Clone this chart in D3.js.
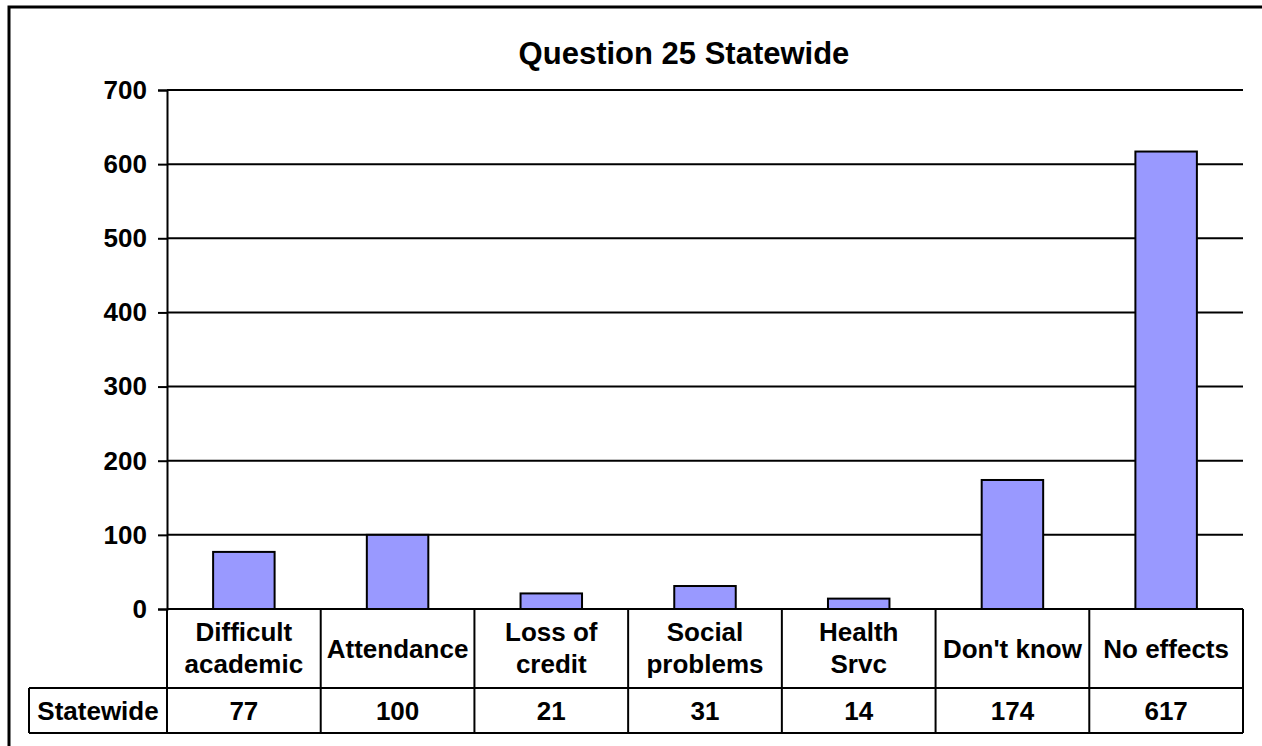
<!DOCTYPE html>
<html><head><meta charset="utf-8">
<script src="https://cdnjs.cloudflare.com/ajax/libs/d3/7.8.5/d3.min.js"></script>
<style>html,body{margin:0;padding:0;background:#fff;}svg{display:block;font-family:Arial,"Liberation Sans",sans-serif;font-weight:bold;}</style>
</head><body>
<svg id="c" width="1262" height="746"></svg>
<script>
const title = "Question 25 Statewide";
const categories = [["Difficult","academic"],["Attendance"],["Loss of","credit"],["Social","problems"],["Health","Srvc"],["Don't know"],["No effects"]];
const seriesName = "Statewide";
const values = [77, 100, 21, 31, 14, 174, 617];
const yTicks = [0, 100, 200, 300, 400, 500, 600, 700];

const svg = d3.select("#c");
const L = 167, R = 1243, T = 90, B = 609;
const rowH1 = 79, rowH2 = 45, tableLeft = 29;
const FS = 26;

svg.append("rect").attr("x", 9).attr("y", 7).attr("width", 1400).attr("height", 900)
  .attr("fill", "none").attr("stroke", "#000").attr("stroke-width", 3);

const x = d3.scaleBand().domain(d3.range(categories.length)).range([L, R]).paddingInner(0.6).paddingOuter(0.3);
const y = d3.scaleLinear().domain([0, 700]).range([B, T]);
const step = (R - L) / categories.length;

// gridlines
svg.append("g").selectAll("line").data(yTicks).join("line")
  .attr("x1", L).attr("x2", R).attr("y1", d => y(d)).attr("y2", d => y(d))
  .attr("stroke", "#000").attr("stroke-width", 2);

// y axis
const yAxis = d3.axisLeft(y).tickValues(yTicks).tickSize(9).tickPadding(11).tickFormat(d3.format("d"));
const ga = svg.append("g").attr("transform", `translate(${L},0)`).call(yAxis);
ga.select(".domain").attr("stroke", "#000").attr("stroke-width", 2);
ga.selectAll(".tick line").attr("stroke", "#000").attr("stroke-width", 2);
ga.selectAll(".tick text").attr("font-size", FS).attr("font-family", "Arial, 'Liberation Sans', sans-serif").attr("font-weight", "bold").attr("fill", "#000");

// bars
svg.append("g").selectAll("rect").data(values).join("rect")
  .attr("x", (d, i) => x(i)).attr("width", x.bandwidth())
  .attr("y", d => y(d)).attr("height", d => y(0) - y(d))
  .attr("fill", "#9999FF").attr("stroke", "#000").attr("stroke-width", 2);

// data table
const tb = svg.append("g");
const yTop = B, yMid = B + rowH1, yBot = B + rowH1 + rowH2;
const line = (x1, y1, x2, y2) => tb.append("line").attr("x1", x1).attr("y1", y1).attr("x2", x2).attr("y2", y2).attr("stroke", "#000").attr("stroke-width", 2);
line(tableLeft, yMid, R, yMid);
line(tableLeft, yBot, R, yBot);
line(tableLeft, yMid, tableLeft, yBot);
line(L, yTop, L, yBot);
categories.forEach((c, i) => line(L + step * (i + 1), yTop, L + step * (i + 1), yBot));

categories.forEach((c, i) => {
  const cx = x(i) + x.bandwidth() / 2;
  const t = tb.append("text").attr("text-anchor", "middle").attr("font-size", FS).attr("fill", "#000");
  if (c.length === 1) {
    t.append("tspan").attr("x", cx).attr("y", yTop + 49).text(c[0]);
  } else {
    t.append("tspan").attr("x", cx).attr("y", yTop + 32).text(c[0]);
    t.append("tspan").attr("x", cx).attr("y", yTop + 64).text(c[1]);
  }
  tb.append("text").attr("x", cx).attr("y", yMid + 32).attr("text-anchor", "middle").attr("font-size", FS).attr("fill", "#000").text(values[i]);
});
tb.append("text").attr("x", (tableLeft + L) / 2).attr("y", yMid + 32).attr("text-anchor", "middle").attr("font-size", FS).attr("fill", "#000").text(seriesName);

// title
svg.append("text").attr("x", 684).attr("y", 64).attr("text-anchor", "middle").attr("font-size", 31).attr("fill", "#000").text(title);
</script>
</body></html>
